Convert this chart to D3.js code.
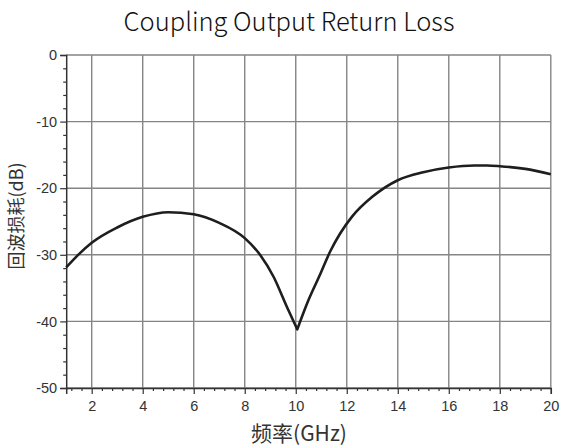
<!DOCTYPE html>
<html><head><meta charset="utf-8">
<script src="https://cdn.jsdelivr.net/npm/d3@7"></script>
<style>body{margin:0;background:#fff}svg{display:block}</style>
</head><body><svg id="c" width="564" height="448"></svg>
<script>
const freqGHz = [1, 1.5, 2, 3, 4, 5, 6, 7, 8, 8.6, 9.13, 9.65, 10.06, 10.5, 10.95, 11.35, 11.74, 12.2, 13, 14, 15, 16, 17, 17.5, 18, 19, 20];
const returnLossDb = [-31.9, -29.9, -28.2, -25.9, -24.3, -23.6, -23.9, -25.2, -27.5, -30.0, -33.3, -37.8, -41.2, -36.8, -33.0, -29.5, -26.8, -24.3, -21.3, -18.8, -17.6, -16.9, -16.6, -16.6, -16.7, -17.1, -17.9];
const xTicks = [2, 4, 6, 8, 10, 12, 14, 16, 18, 20];
const yTicks = [0, -10, -20, -30, -40, -50];
const title = "Coupling Output Return Loss";
const xLabel = "频率(GHz)";
const yLabel = "回波损耗(dB)";

const svg = d3.select("#c");
const L = 66.2, R = 550.8, T = 55, B = 388;
const x = d3.scaleLinear().domain([1, 20]).range([L, R]);
const y = d3.scaleLinear().domain([-50, 0]).range([B, T]);

// grid
const g = svg.append("g");
g.selectAll("line.vx").data(xTicks).join("line")
  .attr("x1", d => x(d)).attr("x2", d => x(d)).attr("y1", T).attr("y2", B)
  .attr("stroke", "#858585").attr("stroke-width", 1.4);
g.selectAll("line.hy").data(yTicks).join("line")
  .attr("x1", L).attr("x2", R).attr("y1", d => y(d)).attr("y2", d => y(d))
  .attr("stroke", "#858585").attr("stroke-width", 1.4);

// axes
const fontTick = "'Liberation Sans', Arial, sans-serif";
const xMinor = d3.range(1.2, 20.001, 0.4).filter(v => Math.abs(v / 2 - Math.round(v / 2)) > 0.01);
const yMinor = d3.range(-48, 0, 2).filter(v => v % 10 !== 0);
const fmt = d => String(d);

const xAxis = svg.append("g").attr("transform", `translate(0,${B})`)
  .call(d3.axisBottom(x).tickValues(xTicks).tickSize(6).tickPadding(4).tickFormat(fmt));
svg.append("g").attr("transform", `translate(0,${B})`)
  .call(d3.axisBottom(x).tickValues(xMinor).tickSize(3).tickFormat(""))
  .call(a => a.select(".domain").remove());
const yAxis = svg.append("g").attr("transform", `translate(${L},0)`)
  .call(d3.axisLeft(y).tickValues(yTicks).tickSize(6).tickPadding(3).tickFormat(fmt));
svg.append("g").attr("transform", `translate(${L},0)`)
  .call(d3.axisLeft(y).tickValues(yMinor).tickSize(3).tickFormat(""))
  .call(a => a.select(".domain").remove());

svg.selectAll(".domain").attr("stroke", "#333").attr("stroke-width", 1.5);
svg.selectAll(".tick line").attr("stroke", "#333").attr("stroke-width", 1.2);
svg.selectAll(".tick text").style("font-family", fontTick).style("font-size", "14.5px").attr("fill", "#333");
xAxis.selectAll(".tick text").attr("dy", "0.9em");

// curve: smooth on both sides of the sharp minimum
const pts = freqGHz.map((f, i) => [f, returnLossDb[i]]);
const iMin = d3.minIndex(returnLossDb);
const line = d3.line().x(d => x(d[0])).y(d => y(d[1])).curve(d3.curveMonotoneX);
const dPath = line(pts.slice(0, iMin + 1)) + line(pts.slice(iMin)).replace(/^M/, "L");
svg.append("path").attr("d", dPath)
  .attr("fill", "none").attr("stroke", "#1e1e1e").attr("stroke-width", 2.6)
  .attr("stroke-linejoin", "round");

// texts
svg.append("text").attr("x", 289).attr("y", 31).attr("text-anchor", "middle")
  .style("font-family", "'Noto Sans CJK SC', 'Noto Sans', sans-serif").style("font-weight", 300)
  .style("font-size", "25.5px").attr("fill", "#111").text(title);
svg.append("text").attr("x", 299).attr("y", 441).attr("text-anchor", "middle")
  .style("font-family", "'Noto Sans CJK SC', sans-serif").style("font-size", "21px").attr("fill", "#333").text(xLabel);
svg.append("text").attr("transform", "translate(23,216) rotate(-90)").attr("text-anchor", "middle")
  .style("font-family", "'Noto Sans CJK SC', sans-serif").style("font-size", "18px").attr("fill", "#333").text(yLabel);
</script></body></html>
